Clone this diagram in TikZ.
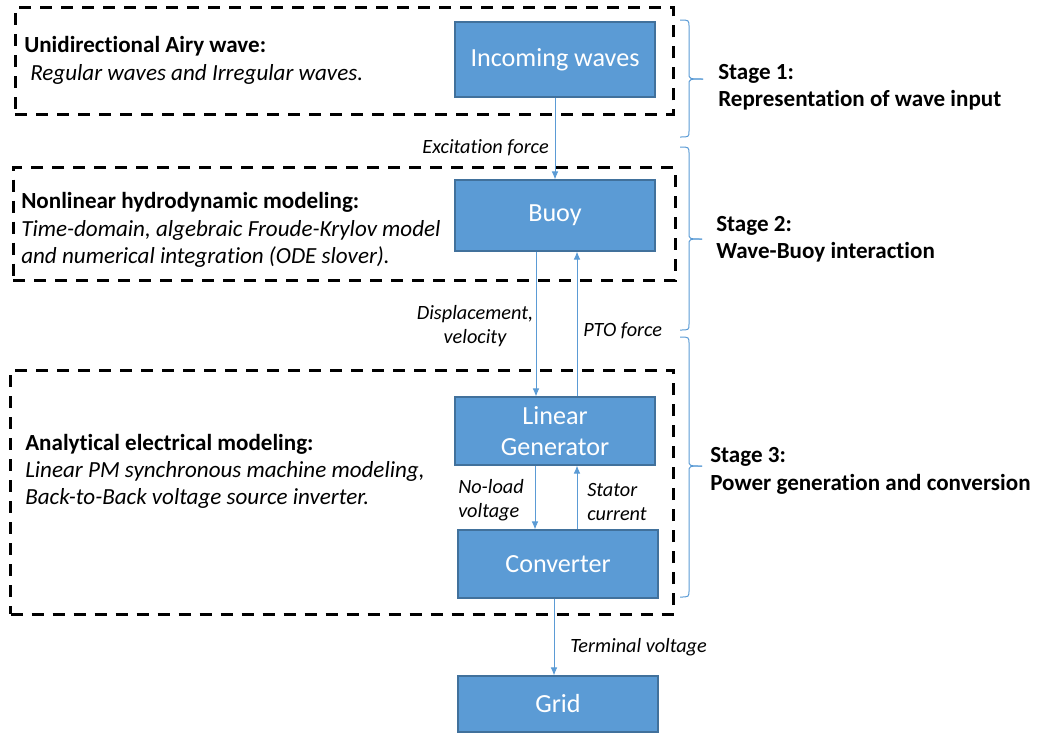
\documentclass[tikz,border=0pt]{standalone}
\usepackage{fontspec}
\setmainfont{Carlito}[RawFeature=-liga]
\usetikzlibrary{arrows.meta}
\definecolor{boxfill}{HTML}{5B9BD5}
\definecolor{boxline}{HTML}{41719C}
\definecolor{arrowc}{HTML}{5B9BD5}
\begin{document}
\begin{tikzpicture}[x=0.75pt,y=-0.75pt,
  blockbox/.style={draw=boxline,fill=boxfill,line width=0.8pt,minimum width=150pt,text=white,font=\fontsize{19.6}{23}\selectfont,align=center,inner sep=0pt},
  dashbox/.style={draw=black,line width=2.25pt,dash pattern=on 9pt off 6.75pt,inner sep=0pt},
  arr/.style={draw=arrowc,line width=0.75pt,-{Latex[length=6pt,width=5pt]}},
  brace/.style={draw=arrowc,line width=0.75pt},
  lbl/.style={font=\fontsize{15.2}{18}\selectfont\itshape,inner sep=0pt},
  head/.style={font=\fontsize{17.3}{20.6}\selectfont\bfseries,inner sep=0pt,anchor=west,align=left},
  body/.style={font=\fontsize{17.3}{20.6}\selectfont\itshape,inner sep=0pt,anchor=west,align=left},
  stage/.style={font=\fontsize{17.3}{20.6}\selectfont\bfseries,inner sep=0pt,anchor=west,align=left}
]
\useasboundingbox (0,0) rectangle (1037,736);
% dashed group boxes
\node[dashbox,minimum width=493.5pt,minimum height=80pt] (g1) at (344,61) {};
\node[dashbox,minimum width=496.5pt,minimum height=84.75pt] (g2) at (344,224) {};
\node[dashbox,minimum width=497.25pt,minimum height=183pt] (g3) at (342,492) {};
% blocks
\node[blockbox,minimum height=56.25pt] (inw) at (555,59.5) {Incoming waves};
\node[blockbox,minimum height=53.25pt] (buoy) at (555,215.5) {Buoy};
\node[blockbox,minimum height=51pt] (gen) at (555,431) {Linear\\Generator};
\node[blockbox,minimum height=51pt] (conv) at (558,564) {Converter};
\node[blockbox,minimum height=42pt] (grid) at (558,704) {Grid};
% arrows
\draw[arr] (inw) -- (buoy);
\draw[arr] ([xshift=-14.25pt]buoy.south) -- ([xshift=-14.25pt]buoy.south |- gen.north);
\draw[arr] ([xshift=16.5pt]gen.north) -- ([xshift=16.5pt]gen.north |- buoy.south);
\draw[arr] ([xshift=-15pt]gen.south) -- ([xshift=-15pt]gen.south |- conv.north);
\draw[arr] ([xshift=16.5pt]gen.south |- conv.north) -- ([xshift=16.5pt]gen.south);
\draw[arr] ([xshift=-3pt]conv.south) -- ([xshift=-3pt]grid.north);
% connector labels
\node[lbl,anchor=east] (lexc) at (549,148) {Excitation force};
\node[lbl,align=center] (ldisp) at (475,326) {Displacement,\\velocity};
\node[lbl,anchor=west] (lpto) at (583,331) {PTO force};
\node[lbl,anchor=west,align=left] (lnol) at (458,500) {No-load\\voltage};
\node[lbl,anchor=west,align=left] (lsta) at (587,502) {Stator\\current};
\node[lbl,anchor=west] (lter) at (570,647) {Terminal voltage};
% left descriptions
\node[head] (h1) at (24,46) {Unidirectional Airy wave:};
\node[body] (b1) at (30,74) {Regular waves and Irregular waves.};
\node[head] (h2) at (21,202) {Nonlinear hydrodynamic modeling:};
\node[body] (b2) at (21,244) {Time-domain, algebraic Froude-Krylov model\\and numerical integration (ODE slover).};
\node[head] (h3) at (25,444) {Analytical electrical modeling:};
\node[body] (b3) at (25,485) {Linear PM synchronous machine modeling,\\Back-to-Back voltage source inverter.};
% braces
\coordinate (t1) at (703,79);
\coordinate (t2) at (702,239);
\coordinate (t3) at (702,466);
\draw[brace] (680,20) .. controls (689,20) .. (689,27) -- (689,73) .. controls (689,79) .. (t1);
\draw[brace] (t1) .. controls (689,79) .. (689,85) -- (689,131) .. controls (689,137) .. (680,137);
\draw[brace] (680,147) .. controls (689,147) .. (689,154) -- (689,233) .. controls (689,239) .. (t2);
\draw[brace] (t2) .. controls (689,239) .. (689,245) -- (689,324) .. controls (689,330) .. (680,330);
\draw[brace] (680,337) .. controls (689,337) .. (689,344) -- (689,460) .. controls (689,466) .. (t3);
\draw[brace] (t3) .. controls (689,466) .. (689,472) -- (689,590) .. controls (689,597) .. (680,597);
% stage labels
\node[stage] (s1) at (718,87) {Stage 1:\\Representation of wave input};
\node[stage] (s2) at (716,239) {Stage 2:\\Wave-Buoy interaction};
\node[stage] (s3) at (710,471) {Stage 3:\\Power generation and conversion};
\end{tikzpicture}
\end{document}
